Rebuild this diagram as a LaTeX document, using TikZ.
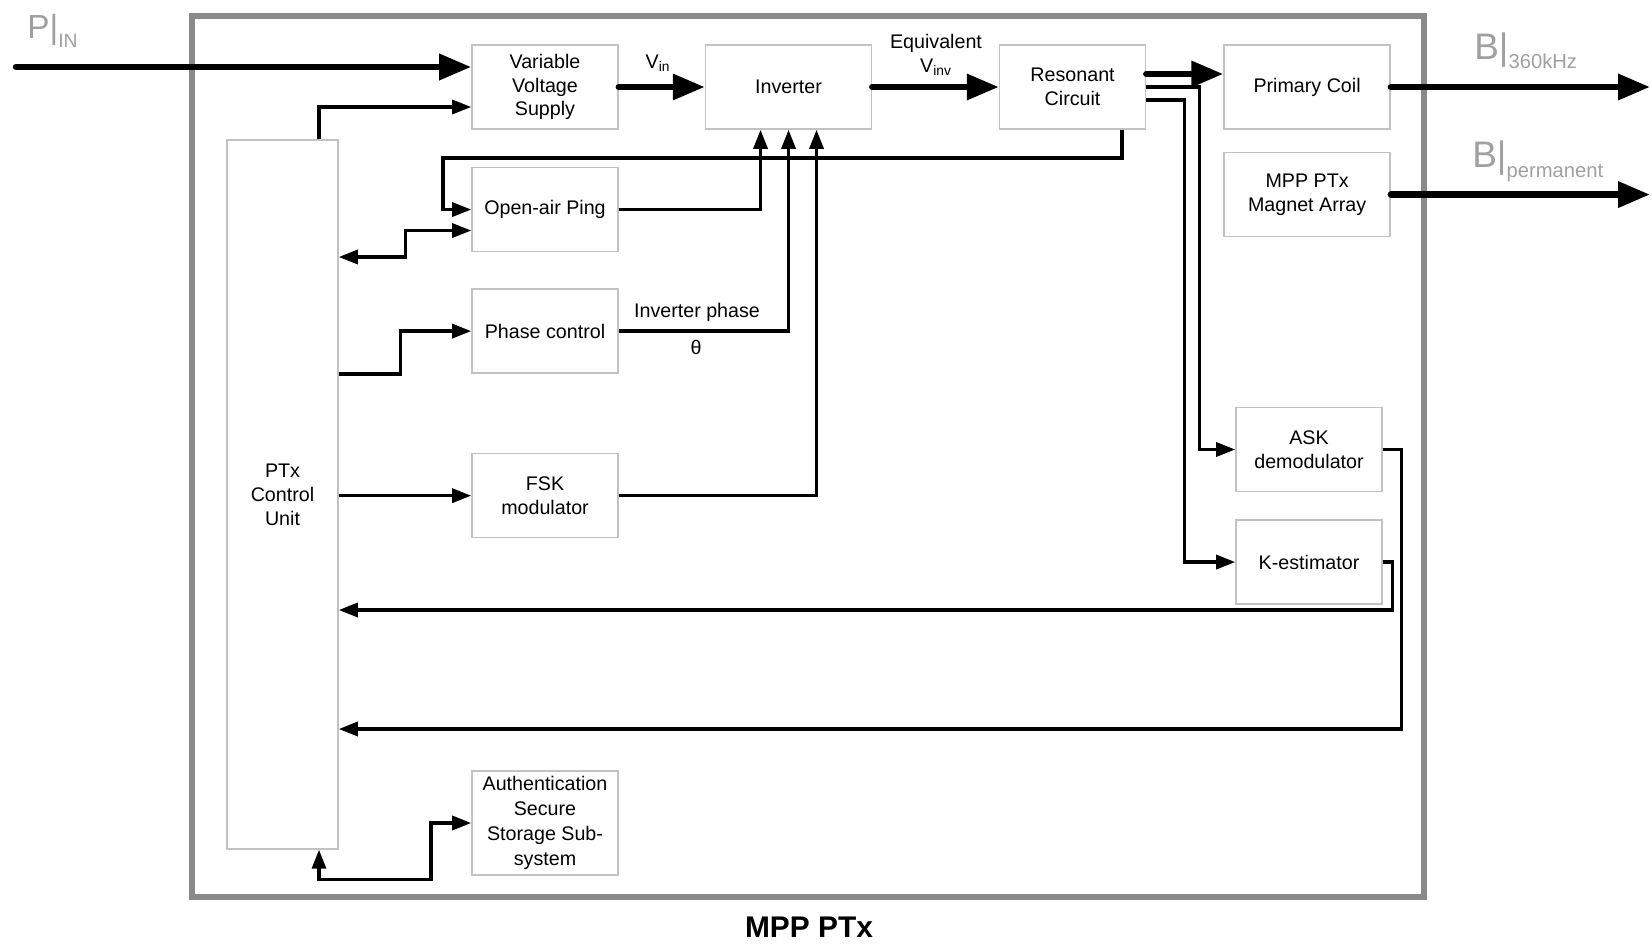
\documentclass[tikz,border=0pt]{standalone}
\usepackage{fontspec}
\setmainfont{Liberation Sans}
\usetikzlibrary{arrows.meta,positioning,calc}
\definecolor{framegray}{HTML}{8A8A8A}
\definecolor{boxgray}{HTML}{C2C2C2}
\definecolor{fluxgray}{HTML}{A0A0A0}

\begin{document}
\begin{tikzpicture}[x=0.02cm,y=-0.02cm,
	block/.style={rectangle,draw=boxgray,line width=0.9pt,minimum width=2.92cm,minimum height=1.68cm,inner sep=2pt,align=center,font=\fontsize{11.2}{13.6}\selectfont},
	wideblock/.style={block,minimum width=3.32cm},
	ctrlblock/.style={block,minimum width=2.22cm,minimum height=14.18cm},
	authblock/.style={block,minimum height=2.08cm,font=\fontsize{11.2}{14.2}\selectfont},
	lbl/.style={inner sep=0pt,align=center,font=\fontsize{11.2}{13.6}\selectfont},
	flux/.style={inner sep=0pt,anchor=base west,text=fluxgray},
	paths/.style={->,line width=0.065cm,>={Triangle[length=0.38cm,width=0.28cm]}},
	power/.style={->,line width=0.13cm,line cap=round,>={Triangle[length=0.64cm,width=0.5cm]}}
	] % End block styles
\useasboundingbox (0,0) rectangle (1652,943);

\draw[framegray,line width=0.11cm] (192,16) rectangle (1424,897);
\node[anchor=base,font=\fontsize{17}{20}\selectfont\bfseries] (title) at (809,937) {MPP PTx};

\node[flux] (pin) at (27,38) {\fontsize{19}{19}\selectfont P|\raisebox{-0.2cm}{\fontsize{11}{11}\selectfont IN}};
\node[flux] (bac) at (1474,59) {\fontsize{21}{21}\selectfont B|\raisebox{-0.2cm}{\fontsize{11.5}{12}\selectfont 360kHz}};
\node[flux] (bperm) at (1472,167) {\fontsize{21}{21}\selectfont B|\raisebox{-0.22cm}{\fontsize{11.5}{12}\selectfont permanent}};

\node [block] at (545,87) (vvs) {Variable\\Voltage\\Supply};
\node [wideblock] (inv) [right=1.72cm of vvs]  {Inverter};
\node [block] (res)   [right=2.53cm of inv]  {Resonant\\Circuit};
\node [wideblock] (pc) [right=1.54cm of res]  {Primary Coil};
\node [wideblock] (mag) [below=0.44cm of pc]  {MPP PTx\\Magnet Array};
\node [block] (ping)  [below=0.74cm of vvs]  {Open-air Ping};
\node [block] (phase) [below=0.72cm of ping] {Phase control};
\node [block] (fsk)   [below=1.58cm of phase] {FSK\\modulator};
\node [authblock] at (545,823) (auth) {Authentication\\Secure\\Storage Sub-\\system};
\node [ctrlblock] at (282.5,494.5) (ctrl) {PTx\\Control\\Unit};
\node [block] at (1309,449.5) (ask) {ASK\\demodulator};
\node [block] (kest)  [below=0.54cm of ask]  {K-estimator};

% power path
\coordinate (pinsrc) at (16,67);
\coordinate (edge) at (1650,0);
\draw [power] (pinsrc) -- (pinsrc -| vvs.west);
\draw [power] (vvs) -- (inv);
\draw [power] (inv) -- (res);
\draw [power] ([yshift=0.26cm]res.east) -- ([yshift=0.26cm]pc.west);
\draw [power] (pc) -- (pc -| edge);
\draw [power] (mag) -- (mag -| edge);

\node [lbl] (vinlbl)   at (658,63)  {V\textsubscript{in}};
\node [lbl] (vinvlbl)  at (936,55)  {Equivalent\\V\textsubscript{inv}};
\node [lbl] (phaselbl) at (697,312) {Inverter phase};
\node [lbl] (thetalbl) at (696,347) {θ};

% control and sensing paths
\coordinate (loop) at (443,158);
\draw [paths] ([xshift=0.73cm]ctrl.north) |- ([yshift=-0.4cm]vvs.west);
\draw [paths] ([xshift=0.99cm]res.south) |- (loop) |- (ping.west);
\draw [paths] (ping.east) -| ([xshift=-0.56cm]inv.south);
\draw [paths] (phase.east) -| (inv.south);
\draw [paths] (fsk.east) -| ([xshift=0.56cm]inv.south);
\draw [paths,<->] (ctrl.east |- 0,257) -- ++(67,0) |- ([yshift=-0.42cm]ping.west);
\draw [paths] (ctrl.east |- 0,374) -- ++(62,0) |- (phase.west);
\draw [paths] (ctrl.east |- fsk.west) -- (fsk.west);
\draw [paths] (res.east) -- ++(53,0) |- (ask.west);
\draw [paths] ([yshift=-0.26cm]res.east) -- ++(38,0) |- (kest.west);
\draw [paths] (ask.east) -- ++(19,0) |- (ctrl.east |- 0,729);
\draw [paths] (kest.east) -- ++(10,0) |- (ctrl.east |- 0,610);
\draw [paths,<->] ([xshift=0.73cm]ctrl.south) -- ++(0,30) -- ++(112,0) |- (auth.west);
\end{tikzpicture}
\end{document}
